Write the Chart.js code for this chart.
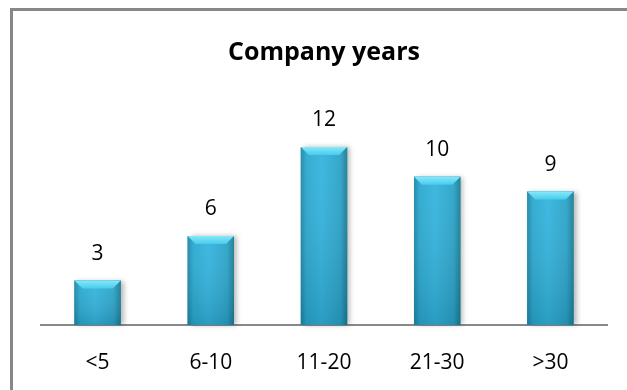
<!DOCTYPE html>
<html>
<head>
<meta charset="utf-8">
<script src="https://cdn.jsdelivr.net/npm/chart.js@4.4.1/dist/chart.umd.min.js"></script>
<style>
  html, body { margin: 0; padding: 0; background: #fff; }
  #wrap { width: 627px; height: 390px; position: relative; }
</style>
</head>
<body>
<div id="wrap"><canvas id="myChart" width="627" height="390"></canvas></div>
<script>
const categories = ['<5', '6-10', '11-20', '21-30', '>30'];
const counts = [3, 6, 12, 10, 9];

const FONT = '"Open Sans", Lato, sans-serif';

// grey frame on the left and top edges
const framePlugin = {
    id: 'frame',
    beforeDraw(chart) {
        const c = chart.ctx;
        c.save();
        c.fillStyle = '#fff';
        c.fillRect(0, 0, chart.width, chart.height);
        c.fillStyle = '#878787';
        c.fillRect(10, 8, 3, chart.height - 8);
        c.fillRect(10, 8, chart.width - 10, 3);
        c.restore();
    }
};

// beveled cyan bars + value labels
const bevelPlugin = {
    id: 'bevel',
    afterDatasetsDraw(chart) {
        const c = chart.ctx;
        const meta = chart.getDatasetMeta(0);
        meta.data.forEach((bar, i) => {
            const { x, y, base, width } = bar.getProps(['x', 'y', 'base', 'width'], true);
            const l = x - width / 2, r = x + width / 2, h = base - y;

            c.save();
            // soft shadow on the right
            c.shadowColor = 'rgba(0,0,0,0.28)';
            c.shadowBlur = 5;
            c.shadowOffsetX = 3;
            c.shadowOffsetY = 0;
            c.fillStyle = '#2aa6c9';
            c.fillRect(l, y, width, h);
            c.restore();

            // body: horizontal shading
            const gx = c.createLinearGradient(l, 0, r, 0);
            gx.addColorStop(0, '#1e86a4');
            gx.addColorStop(0.12, '#2aa8cf');
            gx.addColorStop(0.45, '#34b4de');
            gx.addColorStop(0.85, '#2aa3c8');
            gx.addColorStop(1, '#1b7b93');
            c.fillStyle = gx;
            c.fillRect(l, y, width, h);

            // darken toward the bottom
            const gy = c.createLinearGradient(0, y, 0, base);
            gy.addColorStop(0, 'rgba(255,255,255,0.05)');
            gy.addColorStop(1, 'rgba(0,50,70,0.18)');
            c.fillStyle = gy;
            c.fillRect(l, y, width, h);

            // top bevel
            const bv = Math.min(8, h * 0.3);
            const gt = c.createLinearGradient(0, y, 0, y + bv);
            gt.addColorStop(0, '#86e8f8');
            gt.addColorStop(1, '#48cbee');
            c.fillStyle = gt;
            c.beginPath();
            c.moveTo(l, y);
            c.lineTo(r, y);
            c.lineTo(r - 8, y + bv);
            c.lineTo(l + 8, y + bv);
            c.closePath();
            c.fill();

            // value label
            c.fillStyle = '#000';
            c.font = '21px ' + FONT;
            c.textAlign = 'center';
            c.textBaseline = 'alphabetic';
            c.fillText(String(counts[i]), x, y - 21);
        });
    }
};

const ctx = document.getElementById('myChart').getContext('2d');
let myChart = new Chart(ctx, {
    type: 'bar',
    data: {
        labels: categories,
        datasets: [
            {
                label: 'Company years',
                data: counts,
                backgroundColor: 'rgba(0,0,0,0)',
                borderWidth: 0,
                categoryPercentage: 1,
                barPercentage: 0.41
            }
        ]
    },
    options: {
        responsive: false,
        animation: false,
        layout: { padding: { left: 41, right: 20, top: 0, bottom: 0 } },
        plugins: {
            legend: { display: false },
            tooltip: { enabled: false },
            title: {
                display: true,
                text: 'Company years',
                color: '#000',
                font: { family: FONT, size: 25, weight: 'bold', lineHeight: 1.2 },
                padding: { top: 38, bottom: 49.4 }
            }
        },
        scales: {
            x: {
                grid: { display: false, drawTicks: false },
                border: { display: true, color: '#888888', width: 2 },
                ticks: {
                    color: '#000',
                    font: { family: FONT, size: 21 },
                    padding: 25
                },
                afterFit(scale) { scale.height = 65; }
            },
            y: {
                display: false,
                min: 0,
                max: 14
            }
        }
    },
    plugins: [framePlugin, bevelPlugin]
});
</script>
</body>
</html>
